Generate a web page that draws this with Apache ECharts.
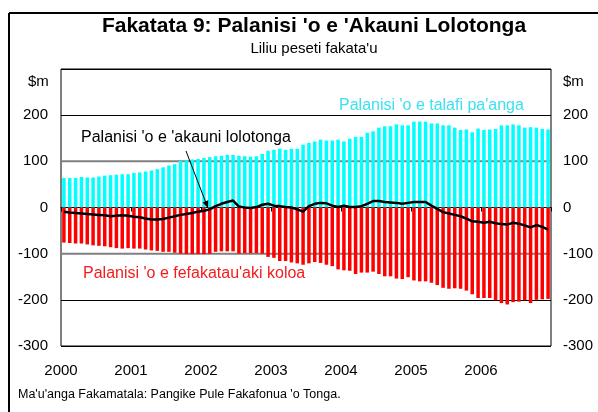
<!DOCTYPE html>
<html>
<head>
<meta charset="utf-8">
<script src="https://cdn.jsdelivr.net/npm/echarts@6/dist/echarts.min.js"></script>
<style>
  html, body { margin: 0; padding: 0; background: #fff; }
  #chart { width: 598px; height: 412px; }
</style>
</head>
<body>
<div id="chart"></div>
<script>
// monthly, Jan 2000 .. Dec 2006
var years = ['2000', '2001', '2002', '2003', '2004', '2005', '2006']
var yTicks = [-300, -200, -100, 0, 100, 200, 300]
var greyLines = [100, -100]

// Palanisi 'o e talafi pa'anga
var capitalBal = [64, 64, 64, 66, 65, 65, 67, 69, 70, 71, 72, 72,
  75, 76, 78, 80, 83, 87, 91, 94, 101, 102, 104, 105,
  107, 109, 111, 112, 114, 114, 112, 111, 110, 111, 116, 123,
  125, 127, 125, 127, 127, 136, 140, 143, 147, 145, 145, 147,
  143, 149, 153, 153, 162, 165, 173, 176, 176, 180, 178, 178,
  186, 186, 186, 182, 182, 178, 178, 173, 168, 169, 163, 171,
  168, 169, 170, 178, 178, 180, 178, 173, 174, 173, 170, 169]

// Palanisi 'o e fefakatau'aki koloa
var tradeBal = [-76, -77, -78, -78, -80, -82, -83, -84, -86, -88, -89, -88,
  -89, -89, -91, -93, -94, -96, -96, -98, -100, -101, -101, -101,
  -101, -100, -96, -95, -95, -95, -100, -99, -99, -99, -100, -107,
  -109, -116, -116, -119, -121, -124, -121, -118, -120, -124, -127, -134,
  -136, -137, -144, -141, -141, -139, -144, -149, -149, -154, -155, -151,
  -158, -160, -160, -163, -168, -174, -176, -175, -176, -180, -188, -196,
  -196, -196, -201, -207, -210, -205, -204, -201, -207, -200, -199, -198]

// Palanisi 'o e 'akauni lolotonga
var currentBal = [-9, -11, -12, -13, -14, -15, -16, -17, -19, -18, -17, -18,
  -20, -21, -24, -26, -26, -25, -22, -19, -16, -14, -12, -9,
  -7, -4, 3, 8, 12, 15, 2, 0, -1, 1, 6, 8,
  4, 3, 1, 0, -4, -9, 3, 8, 10, 9, 4, 1,
  4, 1, 1, 3, 8, 14, 14, 12, 11, 10, 8, 10,
  12, 12, 12, 4, -3, -10, -13, -16, -19, -24, -30, -31,
  -33, -31, -34, -36, -37, -33, -35, -39, -43, -38, -42, -48]

var chartDom = document.getElementById('chart')
var myChart = echarts.init(chartDom, null, { renderer: 'canvas' })

function monthly (arr) {
  return arr.map(function (v, i) { return [i + 0.5, v] })
}

var font = '"Liberation Sans", Arial, sans-serif'

function yLabel (v) {
  return v === 300 ? '' : String(v)
}

// grey guide lines at +-100, between the split lines and the bars
function guide (v) {
  return {
    type: 'line', symbol: 'none', silent: true, z: 2,
    lineStyle: { color: '#808080', width: 2 },
    data: [[0, v], [84, v]]
  }
}

var series = greyLines.map(guide).concat([
  {
    name: "Palanisi 'o e talafi pa'anga",
    type: 'bar', stack: 'bal', barWidth: 3.5, z: 3,
    itemStyle: { color: '#00ffff' },
    data: monthly(capitalBal)
  },
  {
    name: "Palanisi 'o e fefakatau'aki koloa",
    type: 'bar', stack: 'bal', barWidth: 3.5, z: 3,
    itemStyle: { color: '#ff0000' },
    data: monthly(tradeBal)
  },
  {
    name: "Palanisi 'o e 'akauni lolotonga",
    type: 'line', symbol: 'none', z: 5,
    lineStyle: { color: '#000', width: 2.5 },
    data: monthly(currentBal)
  }
])

var option = {
  animation: false,
  backgroundColor: '#fff',
  textStyle: { fontFamily: font },
  title: {
    text: "Fakatata 9: Palanisi 'o e 'Akauni Lolotonga",
    subtext: "Liliu peseti fakata'u",
    left: 309,
    textAlign: 'center',
    top: 11,
    itemGap: 4,
    textStyle: { fontFamily: font, fontSize: 21, fontWeight: 'bold', color: '#000' },
    subtextStyle: { fontFamily: font, fontSize: 15, color: '#000' }
  },
  grid: {
    left: 61, right: 47, top: 69, bottom: 66,
    show: true, borderColor: '#000', borderWidth: 1
  },
  xAxis: [
    {
      type: 'value', min: 0, max: 84, interval: 12,
      axisLine: { onZero: true, lineStyle: { color: '#000', width: 1 } },
      axisTick: { show: true, length: 4, lineStyle: { color: '#000' } },
      axisLabel: { show: false },
      splitLine: { show: false }
    },
    {
      type: 'value', min: 0, max: 84, interval: 12, position: 'bottom',
      axisLine: { show: false },
      axisTick: { show: false },
      splitLine: { show: false },
      axisLabel: {
        margin: 17, fontSize: 15, color: '#000', fontFamily: font,
        formatter: function (v) { return years[v / 12] || '' }
      }
    }
  ],
  yAxis: [
    {
      type: 'value', min: yTicks[0], max: yTicks[yTicks.length - 1], interval: 100,
      axisLine: { show: false }, axisTick: { show: false },
      axisLabel: { margin: 13, fontSize: 15, color: '#000', fontFamily: font, formatter: yLabel },
      splitLine: { show: true, lineStyle: { color: '#000000', width: 1, type: 'solid' } }
    },
    {
      type: 'value', position: 'right', min: yTicks[0], max: yTicks[yTicks.length - 1], interval: 100,
      axisLine: { show: false }, axisTick: { show: false },
      axisLabel: { margin: 12, fontSize: 15, color: '#000', fontFamily: font, formatter: yLabel },
      splitLine: { show: false }
    }
  ],
  series: series,
  graphic: [
    // outer figure frame (top + left)
    { type: 'line', shape: { x1: 9, y1: 13, x2: 598, y2: 13 }, style: { stroke: '#000', lineWidth: 2 } },
    { type: 'line', shape: { x1: 9, y1: 13, x2: 9, y2: 412 }, style: { stroke: '#000', lineWidth: 2 } },
    { type: 'text', left: 28, top: 74, style: { text: '$m', font: '15px ' + font, fill: '#000' } },
    { type: 'text', left: 563, top: 74, style: { text: '$m', font: '15px ' + font, fill: '#000' } },
    { type: 'text', left: 339, top: 98, style: { text: "Palanisi 'o e talafi pa'anga", font: '16px ' + font, fill: '#3ce0f2' } },
    { type: 'text', left: 81, top: 130, style: { text: "Palanisi 'o e 'akauni lolotonga", font: '16px ' + font, fill: '#000' } },
    { type: 'text', left: 83, top: 266, style: { text: "Palanisi 'o e fefakatau'aki koloa", font: '16px ' + font, fill: '#f41c1c' } },
    // arrow to the current account line
    { type: 'line', shape: { x1: 186, y1: 151, x2: 206, y2: 203 }, style: { stroke: '#000', lineWidth: 1 }, z: 10 },
    { type: 'polygon', shape: { points: [[208, 208], [202.6, 202.5], [208.2, 200.3]] }, style: { fill: '#000' }, z: 10 },
    { type: 'text', left: 18, top: 388, style: { text: "Ma'u'anga Fakamatala: Pangike Pule Fakafonua 'o Tonga.", font: '12.5px ' + font, fill: '#000' } }
  ]
}

myChart.setOption(option)
</script>
</body>
</html>
